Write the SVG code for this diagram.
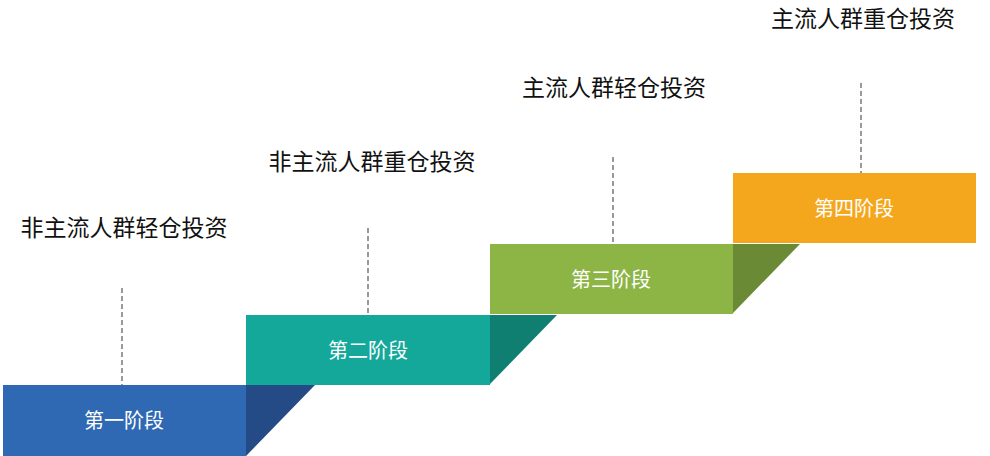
<svg xmlns="http://www.w3.org/2000/svg" width="990" height="456" viewBox="0 0 990 456">
<style>
.t{font-family:"Noto Sans CJK SC","Noto Sans",sans-serif;font-size:23px;fill:#111;text-anchor:middle}
.b{font-family:"Noto Sans CJK SC","Noto Sans",sans-serif;font-size:20px;fill:#fff;text-anchor:middle}
.d{stroke:#999;stroke-width:2;stroke-dasharray:5,3}
</style>
<rect width="990" height="456" fill="#fff"/>
<g id="connectors">
<line class="d" x1="122" y1="288" x2="122" y2="385"/>
<line class="d" x1="368" y1="228" x2="368" y2="315"/>
<line class="d" x1="613" y1="157" x2="613" y2="244"/>
<line class="d" x1="861" y1="83" x2="861" y2="173"/>
</g>
<g id="stage1"><rect x="3" y="385" width="243" height="71" fill="#2f69b3"/><polygon points="246,385 315,385 246,456" fill="#244b85"/><text class="b" x="124" y="428">第一阶段</text></g>
<g id="stage2"><rect x="246" y="315" width="244" height="70" fill="#13a89a"/><polygon points="490,315 557,315 490,384" fill="#0f7f72"/><text class="b" x="368" y="358">第二阶段</text></g>
<g id="stage3"><rect x="490" y="244" width="243" height="70" fill="#8cb545"/><polygon points="733,244 800,244 733,313" fill="#6a8a35"/><text class="b" x="611" y="287">第三阶段</text></g>
<g id="stage4"><rect x="733" y="173" width="243" height="70" fill="#f4a71c"/><text class="b" x="854" y="216">第四阶段</text></g>
<g id="labels">
<text class="t" x="124" y="236">非主流人群轻仓投资</text>
<text class="t" x="372" y="170">非主流人群重仓投资</text>
<text class="t" x="614" y="96">主流人群轻仓投资</text>
<text class="t" x="863" y="27">主流人群重仓投资</text>
</g>
</svg>
